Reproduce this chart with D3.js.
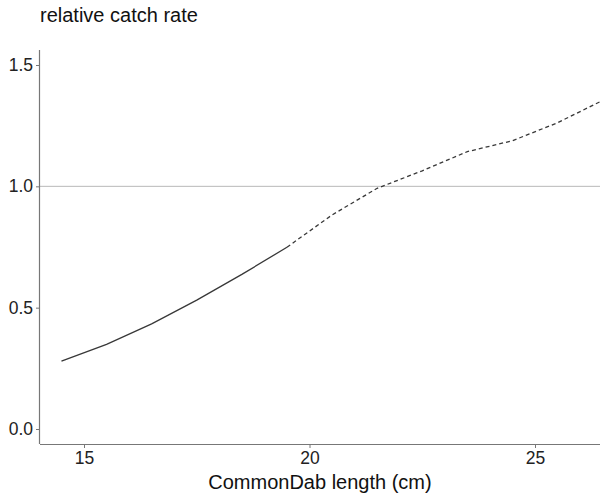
<!DOCTYPE html>
<html>
<head>
<meta charset="utf-8">
<script src="https://cdn.jsdelivr.net/npm/d3@7"></script>
<style>
  html, body { margin: 0; padding: 0; background: #fff; }
  svg { display: block; }
  text { font-family: "Liberation Sans", Arial, sans-serif; }
</style>
</head>
<body>
<svg id="chart" width="600" height="500"></svg>
<script>
// Data
const lengths = [14.5, 15.5, 16.5, 17.5, 18.5, 19.5, 20.5, 21.5, 22.5, 23.5, 24.5, 25.5, 26.5];
const catchRate = [0.280, 0.349, 0.433, 0.531, 0.637, 0.749, 0.882, 0.992, 1.064, 1.143, 1.188, 1.262, 1.354];
const solidUpTo = 19.5;           // solid up to here, dashed after
const xTicks = [15, 20, 25];
const yTicks = [0.0, 0.5, 1.0, 1.5];
const refValue = 1.0;
const yTitle = "relative catch rate";
const xTitle = "CommonDab length (cm)";

const svg = d3.select("#chart");
const panel = { left: 40, right: 600, top: 50, bottom: 444 };

// x: 15 -> 84 px, 25 -> 535 px
const x = d3.scaleLinear().domain([15, 25]).range([84, 535]);
// y: 0 -> 429 px, 1.5 -> 65 px
const y = d3.scaleLinear().domain([0, 1.5]).range([429, 65]);

const data = lengths.map((l, i) => ({ l, v: catchRate[i] }));

svg.append("defs").append("clipPath").attr("id", "clip")
  .append("rect")
  .attr("x", panel.left).attr("y", panel.top)
  .attr("width", panel.right - panel.left).attr("height", panel.bottom - panel.top);

const g = svg.append("g").attr("clip-path", "url(#clip)");

// reference line at 1.0
g.append("line")
  .attr("x1", panel.left).attr("x2", panel.right)
  .attr("y1", y(refValue)).attr("y2", y(refValue))
  .attr("stroke", "#b8b8b8").attr("stroke-width", 1);

const line = d3.line().x(d => x(d.l)).y(d => y(d.v));

g.append("path")
  .datum(data.filter(d => d.l <= solidUpTo))
  .attr("d", line)
  .attr("fill", "none").attr("stroke", "#383838").attr("stroke-width", 1.3);

g.append("path")
  .datum(data.filter(d => d.l >= solidUpTo))
  .attr("d", line)
  .attr("fill", "none").attr("stroke", "#383838").attr("stroke-width", 1.3)
  .attr("stroke-dasharray", "4,3");

// axes
const xAxis = d3.axisBottom(x).tickValues(xTicks).tickFormat(d3.format("d")).tickSize(4).tickSizeOuter(0);
const yAxis = d3.axisLeft(y).tickValues(yTicks).tickFormat(d3.format(".1f")).tickSize(4).tickSizeOuter(0);

const gx = svg.append("g").attr("transform", `translate(0,${panel.bottom})`).call(xAxis);
const gy = svg.append("g").attr("transform", `translate(${panel.left},0)`).call(yAxis);

gx.select(".domain").attr("d", `M${panel.left},0.5H${panel.right}`);
gy.select(".domain").attr("d", `M-0.5,${panel.top}V${panel.bottom}`);

[gx, gy].forEach(a => {
  a.select(".domain").attr("stroke", "#777").attr("stroke-width", 1.2);
  a.selectAll(".tick line").attr("stroke", "#777");
  a.selectAll(".tick text").attr("fill", "#222").style("font-size", "17.5px")
    .style("font-family", '"Liberation Sans", Arial, sans-serif');
});
gx.selectAll(".tick text").attr("dy", "0.71em").attr("y", 8);
gy.selectAll(".tick text").attr("x", -7);

// titles
svg.append("text")
  .attr("x", panel.left).attr("y", 22)
  .attr("fill", "#111").style("font-size", "20px")
  .text(yTitle);

svg.append("text")
  .attr("x", (panel.left + panel.right) / 2).attr("y", 489)
  .attr("text-anchor", "middle")
  .attr("fill", "#111").style("font-size", "20px")
  .text(xTitle);
</script>
</body>
</html>
